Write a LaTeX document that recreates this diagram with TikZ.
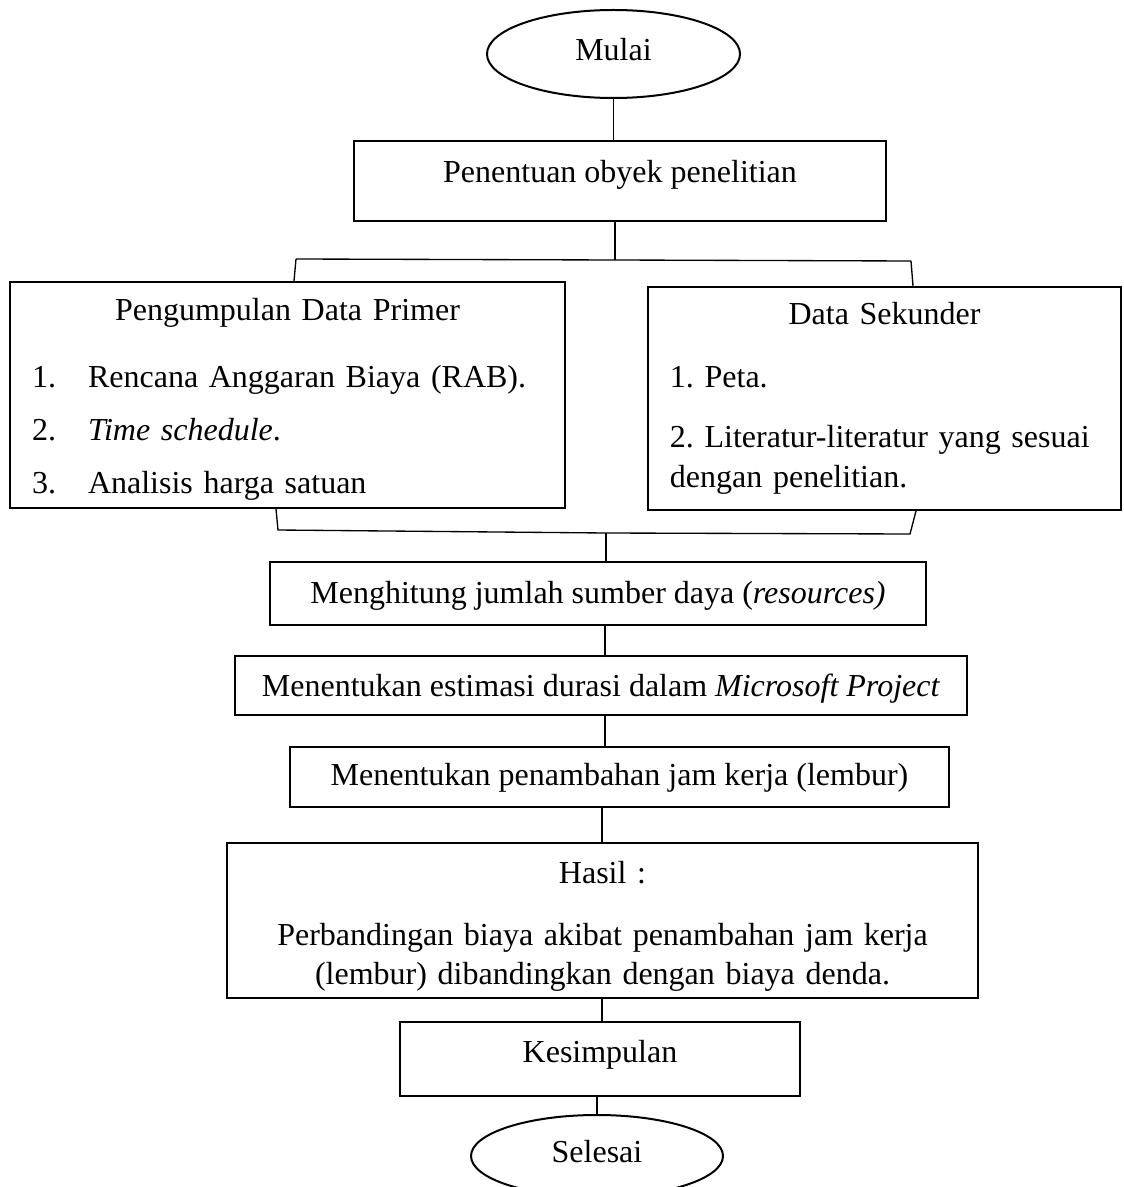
\documentclass[tikz,border=0pt]{standalone}
\usepackage{fontspec}
\setmainfont{Liberation Serif}
\usetikzlibrary{shapes.geometric,calc}
\frenchspacing

\tikzset{
  box/.style={draw,line width=0.75pt,inner sep=0pt,align=center},
  term/.style={draw,ellipse,line width=0.75pt,inner sep=0pt},
  lift/.style={text height=8.4pt,text depth=#1},
  link/.style={line width=0.5pt}
}

\begin{document}
\begin{tikzpicture}[x=0.375pt,y=-0.375pt,font=\fontsize{12}{14.4}\selectfont]
            \useasboundingbox (0,0) rectangle (1123,1187);

            \node[term,lift=3.5pt,minimum width=94.9pt,minimum height=33pt] (mulai) at (613.5,54) {Mulai};
            \node[box,lift=7.3pt,minimum width=199.5pt,minimum height=30pt] (obyek) at (620,181) {Penentuan obyek penelitian};
            \node[box,text width=208.1pt,align=left,minimum height=84.75pt] (primer) at (287.5,395)
                {\rule{0pt}{11.6pt}\makebox[208.1pt]{Pengumpulan Data Primer}\\[10.7pt]
                 \hspace*{8.25pt}\makebox[21pt][l]{1.}Rencana Anggaran Biaya (RAB).\\[5.5pt]
                 \hspace*{8.25pt}\makebox[21pt][l]{2.}\textit{Time schedule}.\\[5.5pt]
                 \hspace*{8.25pt}\makebox[21pt][l]{3.}Analisis harga satuan};
            \node[box,text width=177.4pt,align=left,minimum height=83.6pt] (sekunder) at (884.5,398.5)
                {\makebox[177.4pt]{Data Sekunder}\\[9.2pt]
                 \hspace*{8.25pt}1. Peta.\\[8.1pt]
                 \hspace*{8.25pt}2. Literatur-literatur yang sesuai\\[0.6pt]
                 \hspace*{8.25pt}dengan penelitian.};
            \node[box,lift=0.9pt,minimum width=246pt,minimum height=23.6pt] (hitung) at (598,593.5) {Menghitung jumlah sumber daya (\textit{resources)}};
            \node[box,lift=0.1pt,minimum width=274.5pt,minimum height=22.1pt] (estimasi) at (601,685.5) {Menentukan estimasi durasi dalam \textit{Microsoft Project}};
            \node[box,lift=2pt,minimum width=247.1pt,minimum height=22.5pt] (lembur) at (619.5,777) {Menentukan penambahan jam kerja (lembur)};
            \node[box,text width=281.6pt,minimum height=58.1pt] (hasil) at (602.5,920.5)
                {\rule{0pt}{12.6pt}Hasil :\\[8.85pt]
                 Perbandingan biaya akibat penambahan jam kerja\\[0.2pt]
                 (lembur) dibandingkan dengan biaya denda.};
            \node[box,lift=5.7pt,minimum width=150pt,minimum height=27.75pt] (kesimpulan) at (600,1059) {Kesimpulan};
            \node[term,lift=3.5pt,minimum width=94.5pt,minimum height=30.75pt] (selesai) at (597,1156) {Selesai};

            \coordinate (brM) at (615,260);
            \coordinate (brL) at (296,259);
            \coordinate (brR) at (911,261);
            \coordinate (mgL) at (278,530);
            \coordinate (mgM) at (606,533);
            \coordinate (mgR) at (910,534);
            \coordinate (gA) at (605,0);
            \coordinate (gB) at (602,0);

            \draw[link] (mulai.south) -- (mulai.south |- obyek.north);
            \draw[link] (obyek.south -| brM) -- (brM);
            \draw[link] (brL) -- (brM) -- (brR);
            \draw[link] (brL) -- ($(brL |- primer.north)+(-2,0)$);
            \draw[link] (brR) -- ($(brR |- sekunder.north)+(2,0)$);
            \draw[link] ($(mgL |- primer.south)+(-2,0)$) -- (mgL) -- (mgM) -- (mgR) -- ($(mgR |- sekunder.south)+(6,0)$);
            \draw[link] (mgM) -- (mgM |- hitung.north);
            \draw[link] (hitung.south -| gA) -- (estimasi.north -| gA);
            \draw[link] (estimasi.south -| gA) -- (lembur.north -| gA);
            \draw[link] (lembur.south -| gB) -- (hasil.north -| gB);
            \draw[link] (hasil.south -| gB) -- (kesimpulan.north -| gB);
            \draw[link] (kesimpulan.south -| selesai.north) -- (selesai.north);
        \end{tikzpicture}
\end{document}
